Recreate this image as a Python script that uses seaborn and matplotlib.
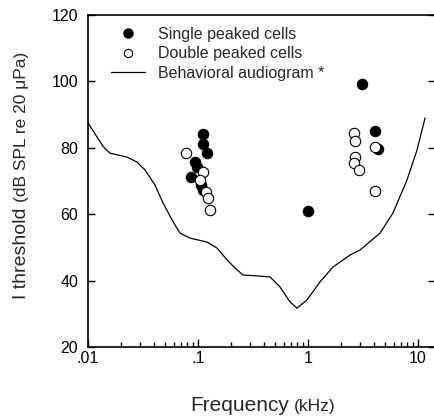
import matplotlib
matplotlib.use("Agg")
import matplotlib.pyplot as plt
from matplotlib.lines import Line2D
import seaborn as sns
import pandas as pd

# ---- data ----
single_freq = [0.112, 0.110, 0.120, 0.094, 0.097, 0.086, 0.106, 0.112, 1.0, 3.07, 4.07, 4.33]
single_db = [84.3, 81.0, 78.5, 75.8, 74.3, 71.2, 68.8, 67.3, 61.0, 99.2, 85.1, 79.6]

double_freq = [0.078, 0.112, 0.104, 0.118, 0.123, 0.128, 2.62, 2.65, 2.65, 2.60, 2.91, 4.07, 4.07]
double_db = [78.4, 72.7, 70.3, 66.7, 64.9, 61.3, 84.5, 82.1, 77.2, 75.4, 73.3, 80.2, 67.0]

aud_freq = [0.010, 0.012, 0.0138, 0.0158, 0.0226, 0.0279, 0.033, 0.0406, 0.0481, 0.058,
            0.0686, 0.0845, 0.121, 0.149, 0.184, 0.217, 0.256, 0.344, 0.452, 0.556,
            0.686, 0.794, 0.98, 1.285, 1.687, 2.41, 2.97, 4.52, 5.93, 7.94, 9.79, 11.6]
aud_db = [87.5, 83.4, 80.3, 78.4, 77.2, 75.7, 73.3, 68.8, 63.4, 58.3,
          54.3, 52.8, 51.6, 49.8, 46.2, 43.8, 41.7, 41.4, 41.1, 38.1,
          33.6, 31.7, 34.2, 39.6, 44.1, 47.7, 49.2, 54.3, 60.4, 70.3, 79.3, 89.0]

x_ticks = [0.01, 0.1, 1, 10]
x_tick_labels = [".01", ".1", "1", "10"]
y_ticks = [20, 40, 60, 80, 100, 120]

legend_labels = ["Single peaked cells", "Double peaked cells", "Behavioral audiogram *"]

# ---- style ----
sns.set_style("ticks")
plt.rcParams["font.family"] = ["Liberation Sans", "DejaVu Sans"]

W, H = 435, 418
fig = plt.figure(figsize=(W / 100, H / 100), dpi=100)
ax = fig.add_axes([88 / W, 1 - 347 / H, 1 - 88 / W, (347 - 15) / H])

df_s = pd.DataFrame({"f": single_freq, "db": single_db})
df_d = pd.DataFrame({"f": double_freq, "db": double_db})
df_a = pd.DataFrame({"f": aud_freq, "db": aud_db})

sns.lineplot(data=df_a, x="f", y="db", ax=ax, color="black", lw=0.9, sort=False,
             estimator=None, zorder=2)
sns.scatterplot(data=df_s, x="f", y="db", ax=ax, color="black", s=56,
                edgecolor="black", linewidth=0.8, zorder=3)
sns.scatterplot(data=df_d, x="f", y="db", ax=ax, color="white", s=56,
                edgecolor="black", linewidth=0.8, zorder=4)

ax.set_xscale("log")
ax.set_xlim(0.01, 10 ** (-2 + (W - 88) / 110))
ax.set_ylim(20, 120)
ax.set_xticks(x_ticks)
ax.set_xticklabels(x_tick_labels)
ax.set_yticks(y_ticks)
ax.set_xlabel("")
ax.set_ylabel("")

for s in ["left", "bottom", "top"]:
    ax.spines[s].set_linewidth(1.2)
    ax.spines[s].set_color("black")
ax.spines["right"].set_visible(False)

ax.tick_params(axis="x", which="major", direction="in", length=6, width=1, labelsize=11.5,
               pad=3, top=False, colors="black")
ax.tick_params(axis="x", which="minor", direction="in", length=3.6, width=1, top=False,
               colors="black")
ax.tick_params(axis="y", which="major", direction="in", length=5, width=1, labelsize=11.5,
               pad=7, right=True, colors="black")

# legend
handles = [
    Line2D([], [], marker="o", ls="none", color="black", markersize=6.5,
           markerfacecolor="black", markeredgecolor="black"),
    Line2D([], [], marker="o", ls="none", color="black", markersize=6,
           markerfacecolor="white", markeredgecolor="black", markeredgewidth=0.8),
    Line2D([], [], color="black", lw=0.9),
]
ax.legend(handles, legend_labels, loc="upper left",
          bbox_to_anchor=((111 - 88) / (W - 88), 1 - (27 - 15) / 332),
          frameon=False, fontsize=11.5, handlelength=2.1, handletextpad=0.84,
          labelspacing=0.27, borderpad=0, borderaxespad=0)

# axis labels with mixed sizes
fig.canvas.draw()
r = fig.canvas.get_renderer()

t1 = fig.text(190 / W, 1 - 411 / H, "Frequency", fontsize=15, ha="left",
              va="baseline")
bb = t1.get_window_extent(r)
fig.text((bb.x1 + 5) / W, 1 - 411 / H, "(kHz)", fontsize=12.5, ha="left",
         va="baseline")

t2 = fig.text(30 / W, 1 - 299 / H, "I threshold", fontsize=14, rotation=90,
              ha="right", va="bottom")
bb2 = t2.get_window_extent(r)
fig.text(29.5 / W, (bb2.y1 + 5) / H, "(dB SPL re 20 μPa)", fontsize=12.5,
         rotation=90, ha="right", va="bottom")

fig.savefig("out.png", dpi=100)
